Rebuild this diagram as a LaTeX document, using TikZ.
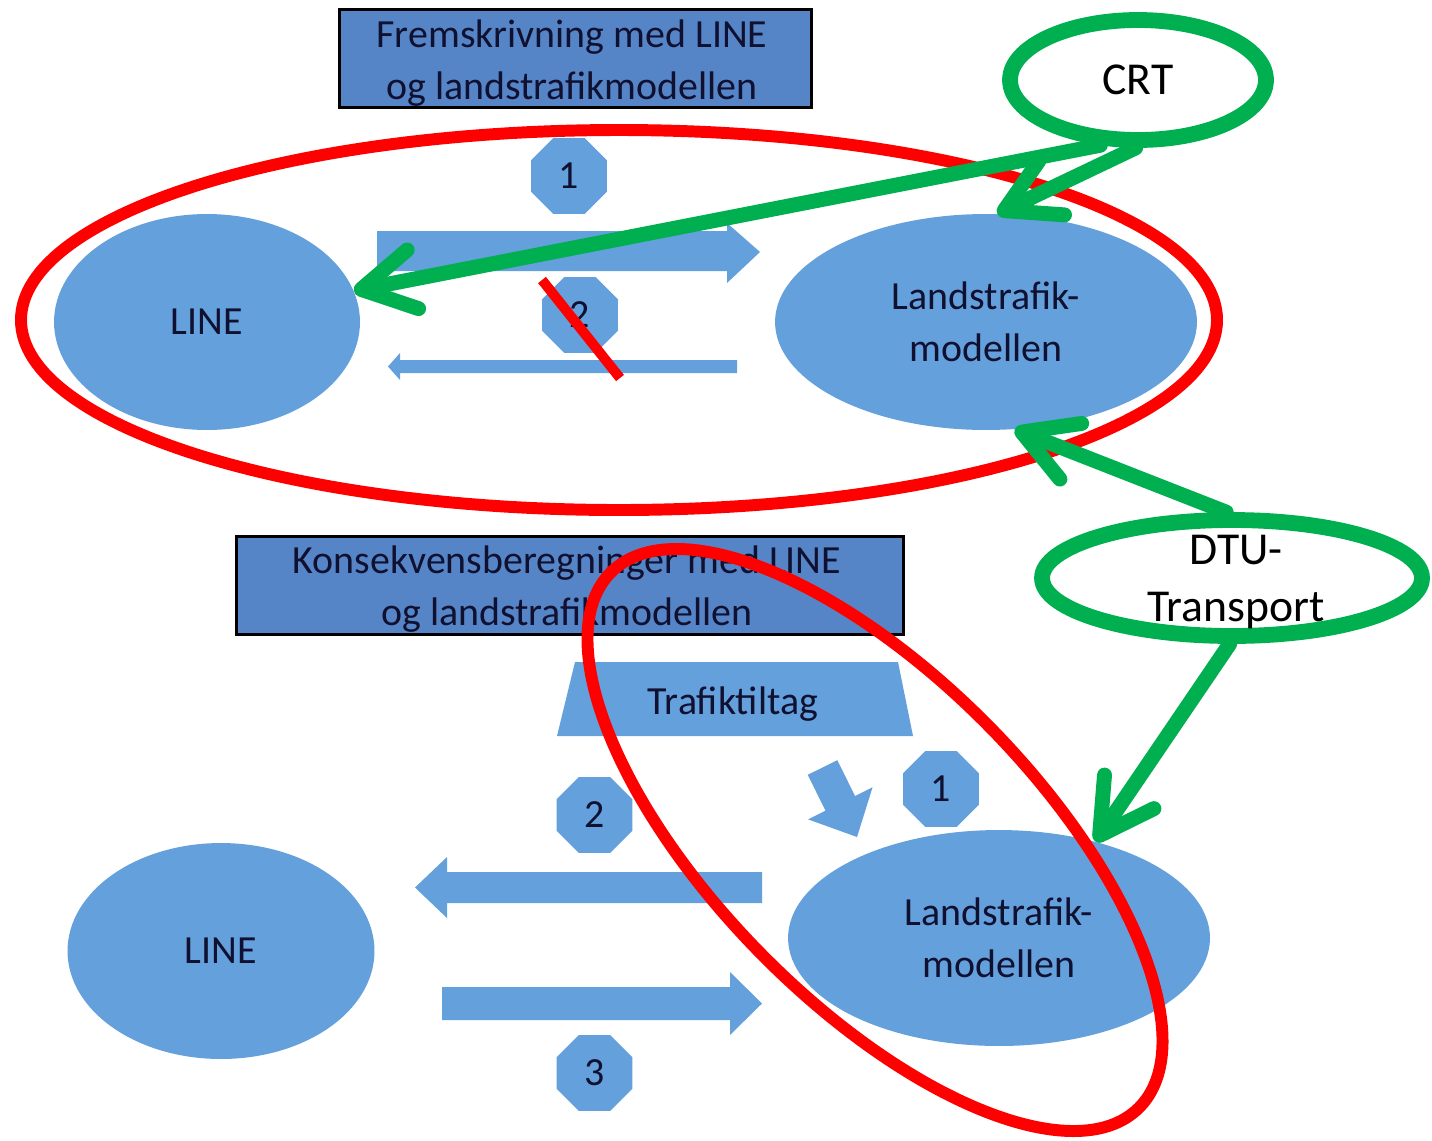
\documentclass[tikz,border=0pt]{standalone}
\usepackage{fontspec}
\setmainfont{Carlito}
\usetikzlibrary{shapes.geometric,arrows.meta}
\definecolor{boxblue}{HTML}{5585C7}
\definecolor{lightblue}{HTML}{64A0DC}
\definecolor{ogreen}{HTML}{00B050}
\definecolor{ored}{HTML}{FF0000}
\definecolor{navy}{HTML}{101030}
\begin{document}
\begin{tikzpicture}[x=0.02cm,y=0.02cm,
  txt/.style={font=\fontsize{22.7}{29.5}\selectfont, text=navy, align=center},
  titlebox/.style={draw=black, line width=1.7pt, fill=boxblue, inner sep=0pt, minimum height=1.96cm},
  blueell/.style={ellipse, fill=lightblue, inner sep=0pt, minimum height=4.32cm, txt},
  badge/.style={regular polygon, regular polygon sides=8, fill=lightblue, inner sep=0pt, minimum size=1.64cm, txt},
  bluearrow/.style={fill=lightblue},
  redline/.style={draw=ored, line width=6.8pt},
  greenell/.style={ellipse, draw=ogreen, line width=9pt, fill=white, inner sep=0pt},
  greentxt/.style={font=\fontsize{26}{32.9}\selectfont, text=black, align=center},
  greenarrow/.style={draw=ogreen, line width=8.5pt, line cap=round, line join=round,
     -{Straight Barb[length=30pt,width=34pt,round]}}
]
\fill[white] (0,0) rectangle (1432,-1140);
\useasboundingbox (0,0) rectangle (1432,-1140);

% ---------- upper part ----------
\node[titlebox, minimum width=9.44cm] (title1) at (575.5,-58.5) {};
\node[txt, inner sep=0pt] (title1txt) at (572,-63) {Fremskrivning med LINE\\og landstrafikmodellen};

\node[blueell, minimum width=6.12cm] (lineA) at (207,-322) {LINE};
\node[blueell, minimum width=8.44cm] (landA) at (986,-322) {Landstrafik-\\modellen};

\node[badge] (b1A) at (569,-176) {1};
\node[badge] (b2A) at (580,-315) {2};

% block arrow right
\fill[bluearrow] (377,-231) -- (727,-231) -- (727,-223) -- (760,-252) -- (727,-283) -- (727,-271) -- (377,-271) -- cycle;
% thin arrow left
\fill[bluearrow] (737,-360) -- (400,-360) -- (400,-353) -- (388,-366.5) -- (400,-380) -- (400,-373) -- (737,-373) -- cycle;

% red strike
\draw[draw=ored, line width=5.7pt] (542,-280) -- (620,-378);

% red ellipse top
\draw[redline] (619,-320) ellipse [x radius=598, y radius=190];

% ---------- lower part ----------
\node[titlebox, minimum width=13.34cm] (title2) at (570,-585.5) {};
\node[txt, inner sep=0pt] (title2txt) at (567,-589) {Konsekvensberegninger med LINE\\og landstrafikmodellen};

\fill[bluearrow] (575,-662) -- (898,-662) -- (913,-736) -- (557,-736) -- cycle;
\node[txt, inner sep=0pt] (traf) at (733,-704) {Trafiktiltag};

% small diagonal arrow
\begin{scope}[shift={(822.5,-767.5)}, rotate=-63.6]
\fill[bluearrow] (0,16.5) -- (40,16.5) -- (40,36) -- (77.6,0) -- (40,-36) -- (40,-16.5) -- (0,-16.5) -- cycle;
\end{scope}

\node[badge] (b1B) at (941,-789) {1};
\node[badge] (b2B) at (594.5,-815) {2};
\node[badge] (b3B) at (594.5,-1073) {3};

\node[blueell, minimum width=6.14cm] (lineB) at (221,-951) {LINE};
\node[blueell, minimum width=8.44cm] (landB) at (999,-938) {Landstrafik-\\modellen};

% arrow left
\fill[bluearrow] (762,-872) -- (447,-872) -- (447,-857) -- (415,-887.5) -- (447,-918) -- (447,-903) -- (762,-903) -- cycle;
% arrow right
\fill[bluearrow] (442,-987) -- (730,-987) -- (730,-972) -- (762,-1003.5) -- (730,-1035) -- (730,-1020) -- (442,-1020) -- cycle;

% red ellipse bottom (tilted)
\draw[redline, rotate around={-45.5:(875,-840)}] (875,-840) ellipse [x radius=376, y radius=161];

% ---------- green annotations ----------
\node[greenell, minimum width=5.12cm, minimum height=2.4cm, greentxt] (crt) at (1138,-80) {CRT};
\node[greenell, minimum width=7.6cm, minimum height=2.32cm] (dtu) at (1232,-578) {};
\node[greentxt, inner sep=0pt] (dtutxt) at (1236,-582) {DTU-\\Transport};

\draw[greenarrow] (crt.240) -- (lineA.12);
\draw[greenarrow] (crt.268) -- (landA.84);
\draw[greenarrow] (dtu.95) -- (landA.-75);
\draw[greenarrow] (dtu.-92) -- (landB.45);
\end{tikzpicture}
\end{document}
